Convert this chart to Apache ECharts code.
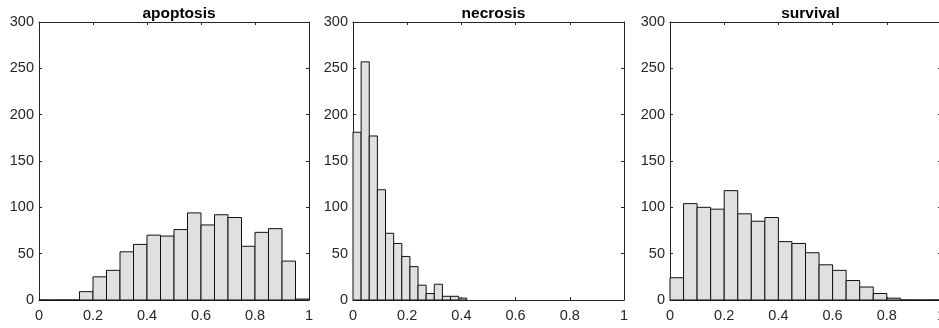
<!DOCTYPE html>
<html>
<head>
<meta charset="utf-8">
<script src="https://cdn.jsdelivr.net/npm/echarts@6/dist/echarts.min.js"></script>
<style>
html,body{margin:0;padding:0;background:#fff;}
#chart{width:939px;height:328px;}
</style>
</head>
<body>
<div id="chart"></div>
<script>
// ---- data ----
var panelTitles = ['apoptosis', 'necrosis', 'survival'];
var apoptosisBinWidth = 0.05;
var apoptosisCounts = [0, 0, 0, 9, 25, 32, 52, 60, 70, 69, 76, 94, 81, 92, 89, 58, 73, 77, 42, 1];
var necrosisBinWidth = 0.03;
var necrosisCounts = [181, 257, 177, 119, 72, 61, 47, 36, 16, 7, 17, 4, 4, 2];
var survivalBinWidth = 0.05;
var survivalCounts = [24, 104, 100, 98, 118, 93, 85, 89, 63, 61, 51, 38, 32, 21, 14, 7, 2, 0, 0, 0];
var xTicks = [0, 0.2, 0.4, 0.6, 0.8, 1];
var yTicks = [0, 50, 100, 150, 200, 250, 300];

// ---- layout ----
var grids = [
  {left: 39, top: 22, width: 270, height: 278, outerBoundsMode: 'none', containLabel: false},
  {left: 353, top: 22, width: 271, height: 278, outerBoundsMode: 'none', containLabel: false},
  {left: 670, top: 22, width: 271, height: 278, outerBoundsMode: 'none', containLabel: false}
];
var binWidths = [apoptosisBinWidth, necrosisBinWidth, survivalBinWidth];
var countsList = [apoptosisCounts, necrosisCounts, survivalCounts];

var axisColor = '#262626';
var fontFam = '"Liberation Sans", Arial, Helvetica, sans-serif';

function binsToData(counts, w) {
  return counts.map(function (c, i) { return [i * w, (i + 1) * w, c]; });
}

var xAxes = [], yAxes = [], series = [], titles = [];
grids.forEach(function (g, gi) {
  titles.push({
    text: panelTitles[gi],
    left: g.left + g.width / 2,
    top: 1,
    textAlign: 'center',
    textStyle: {fontSize: 15.5, fontWeight: 'bold', color: '#000', fontFamily: fontFam}
  });
  xAxes.push({
    type: 'value', gridIndex: gi, position: 'bottom', min: xTicks[0], max: xTicks[xTicks.length - 1], interval: 0.2,
    axisLine: {show: true, onZero: false, lineStyle: {color: axisColor, width: 1}},
    axisTick: {show: true, inside: true, length: 3, lineStyle: {color: axisColor}},
    axisLabel: {show: true, color: axisColor, fontSize: 14.5, fontFamily: fontFam, margin: 8, showMinLabel: true, showMaxLabel: true},
    splitLine: {show: false}
  });
  xAxes.push({
    type: 'value', gridIndex: gi, position: 'top', min: xTicks[0], max: xTicks[xTicks.length - 1], interval: 0.2,
    axisLine: {show: true, onZero: false, lineStyle: {color: axisColor, width: 1}},
    axisTick: {show: true, inside: true, length: 3, lineStyle: {color: axisColor}},
    axisLabel: {show: false},
    splitLine: {show: false}
  });
  yAxes.push({
    type: 'value', gridIndex: gi, position: 'left', min: yTicks[0], max: yTicks[yTicks.length - 1], interval: 50,
    axisLine: {show: true, onZero: false, lineStyle: {color: axisColor, width: 1}},
    axisTick: {show: true, inside: true, length: 3, lineStyle: {color: axisColor}},
    axisLabel: {show: true, color: axisColor, fontSize: 14.5, fontFamily: fontFam, margin: 5},
    splitLine: {show: false}
  });
  yAxes.push({
    type: 'value', gridIndex: gi, position: 'right', min: yTicks[0], max: yTicks[yTicks.length - 1], interval: 50,
    axisLine: {show: true, onZero: false, lineStyle: {color: axisColor, width: 1}},
    axisTick: {show: true, inside: true, length: 3, lineStyle: {color: axisColor}},
    axisLabel: {show: false},
    splitLine: {show: false}
  });
  series.push({
    type: 'custom',
    xAxisIndex: gi * 2,
    yAxisIndex: gi * 2,
    data: binsToData(countsList[gi], binWidths[gi]),
    renderItem: function (params, api) {
      var p0 = api.coord([api.value(0), api.value(2)]);
      var p1 = api.coord([api.value(1), 0]);
      return {
        type: 'rect',
        shape: {x: p0[0], y: p0[1], width: p1[0] - p0[0], height: p1[1] - p0[1]},
        style: {fill: '#e0e0e0', stroke: '#111', lineWidth: 1}
      };
    },
    z: 1
  });
});

var chart = echarts.init(document.getElementById('chart'), null, {renderer: 'canvas'});
chart.setOption({
  animation: false,
  backgroundColor: '#fff',
  title: titles,
  grid: grids,
  xAxis: xAxes,
  yAxis: yAxes,
  series: series
});
</script>
</body>
</html>
